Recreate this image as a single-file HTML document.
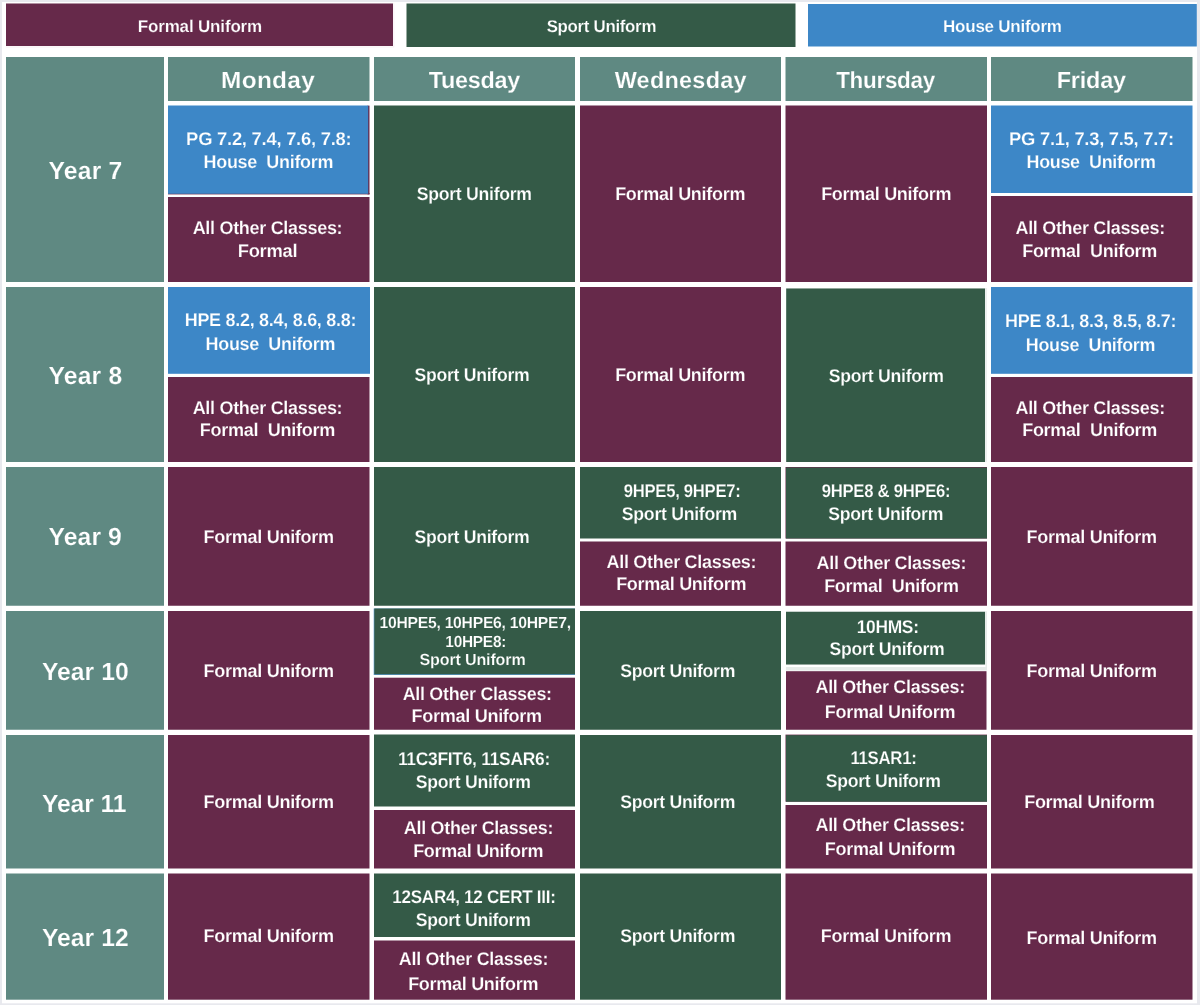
<!DOCTYPE html>
<html lang="en">
<head>
<meta charset="utf-8">
<title>Uniform Timetable</title>
<style>
html,body{margin:0;padding:0;background:#e8e9ee;}
#page{position:relative;width:1200px;height:1005px;overflow:hidden;background:#e8e9ee;}
#bg{position:absolute;left:0;top:0;display:block;}
.t{position:absolute;white-space:pre;color:#fff;font-family:"Liberation Sans",sans-serif;font-weight:700;line-height:1;margin:0;transform-origin:0 0;text-rendering:geometricPrecision;}
.c{font-size:18.4px;height:18.4px;}
.l{font-size:17px;height:17px;}
.h{font-size:23.4px;height:23.4px;}
.y{font-size:24.7px;height:24.7px;}
.s{font-size:16.1px;height:16.1px;}
.km{-webkit-text-stroke:0.2px #66294a;}
.kg{-webkit-text-stroke:0.2px #345a47;}
.kt{-webkit-text-stroke:0.2px #5f8982;}
.kb{-webkit-text-stroke:0.2px #3d87c7;}
</style>
</head>
<body>
<div id="page">
<svg id="bg" width="1200" height="1005" viewBox="0 0 1200 1005">
<rect x="2" y="2" width="1195" height="1001.3" fill="#ffffff"/>
<rect x="6" y="3.5" width="388.3" height="43.9" fill="#f4ecf0"/>
<rect x="6" y="3.5" width="387.5" height="43.1" fill="#ffffff"/>
<rect x="6" y="3.5" width="387" height="42.5" fill="#66294a"/>
<rect x="406.5" y="3.5" width="389" height="43.5" fill="#345a47"/>
<rect x="808" y="4" width="388.8" height="42.5" fill="#3d87c7"/>
<rect x="168" y="57" width="201.5" height="44" fill="#5f8982"/>
<rect x="374" y="57" width="201" height="44" fill="#5f8982"/>
<rect x="580" y="57" width="201" height="44" fill="#5f8982"/>
<rect x="785.5" y="57" width="201.5" height="44" fill="#5f8982"/>
<rect x="991" y="57" width="201.5" height="44" fill="#5f8982"/>
<rect x="6" y="57" width="158" height="225" fill="#5f8982"/>
<rect x="6" y="287" width="158" height="175" fill="#5f8982"/>
<rect x="6" y="467" width="158" height="138.75" fill="#5f8982"/>
<rect x="6" y="611" width="158" height="118.75" fill="#5f8982"/>
<rect x="6" y="735" width="158" height="133.5" fill="#5f8982"/>
<rect x="6" y="873.5" width="158" height="126.2" fill="#5f8982"/>
<rect x="168" y="197" width="201.5" height="85" fill="#66294a"/>
<rect x="367.5" y="105.6" width="2" height="88.8" fill="#66294a"/>
<rect x="168" y="193" width="201.5" height="1.4" fill="#66294a"/>
<rect x="168" y="105.5" width="200.2" height="88.3" fill="#3d87c7"/>
<rect x="374" y="105.5" width="201" height="176.5" fill="#345a47"/>
<rect x="580" y="105.5" width="201" height="176.5" fill="#66294a"/>
<rect x="785.5" y="105.5" width="201.5" height="176.5" fill="#66294a"/>
<rect x="991" y="105.5" width="201.5" height="87.5" fill="#3d87c7"/>
<rect x="991" y="196" width="201.5" height="86" fill="#66294a"/>
<rect x="168" y="287" width="202" height="86.8" fill="#3d87c7"/>
<rect x="168" y="377" width="201.5" height="85" fill="#66294a"/>
<rect x="374" y="287" width="201" height="175" fill="#345a47"/>
<rect x="580" y="287" width="201" height="175" fill="#66294a"/>
<rect x="786" y="288" width="201" height="174" fill="#edf0ef"/>
<rect x="786.2" y="288.5" width="198.8" height="173.5" fill="#345a47"/>
<rect x="991" y="287" width="201.5" height="86.8" fill="#3d87c7"/>
<rect x="991" y="377" width="201.5" height="85" fill="#66294a"/>
<rect x="168" y="467" width="201.5" height="138.75" fill="#66294a"/>
<rect x="374" y="467" width="201" height="138.75" fill="#345a47"/>
<rect x="580" y="467" width="201" height="71.5" fill="#345a47"/>
<rect x="580" y="541.5" width="201" height="64.25" fill="#66294a"/>
<rect x="785.5" y="467" width="201.5" height="71.5" fill="#66294a"/>
<rect x="786" y="467.6" width="201" height="70.9" fill="#345a47"/>
<rect x="785.5" y="541.5" width="201.5" height="64.25" fill="#66294a"/>
<rect x="991" y="467" width="201.5" height="138.75" fill="#66294a"/>
<rect x="168" y="611" width="201.5" height="118.75" fill="#66294a"/>
<rect x="373.7" y="608.5" width="201.3" height="66.5" fill="#5b9bd0"/>
<rect x="374.3" y="608.5" width="200.7" height="65.8" fill="#345a47"/>
<rect x="374" y="677.7" width="201" height="52.05" fill="#66294a"/>
<rect x="580" y="611" width="201" height="118.75" fill="#345a47"/>
<rect x="786" y="611.3" width="201" height="59.3" fill="#e6ebe9"/>
<rect x="786" y="664.5" width="199.5" height="2.5" fill="#ffffff"/>
<rect x="786" y="611.8" width="199" height="52.7" fill="#345a47"/>
<rect x="786" y="671.2" width="200.5" height="58.55" fill="#66294a"/>
<rect x="991" y="611" width="201.5" height="118.75" fill="#66294a"/>
<rect x="168" y="735" width="201.5" height="133.5" fill="#66294a"/>
<rect x="374" y="734.5" width="201" height="72" fill="#345a47"/>
<rect x="374" y="810" width="201" height="58.5" fill="#66294a"/>
<rect x="580" y="735" width="201" height="133.5" fill="#345a47"/>
<rect x="785.5" y="734.6" width="201.5" height="67.1" fill="#66294a"/>
<rect x="786" y="735.2" width="201" height="66.5" fill="#345a47"/>
<rect x="785.5" y="805" width="201.5" height="63.5" fill="#66294a"/>
<rect x="991" y="735" width="201.5" height="133.5" fill="#66294a"/>
<rect x="168" y="873.5" width="201.5" height="126.2" fill="#66294a"/>
<rect x="374" y="873.5" width="201" height="63.5" fill="#345a47"/>
<rect x="374" y="940.5" width="201" height="59.2" fill="#66294a"/>
<rect x="580" y="873.5" width="201" height="126.2" fill="#345a47"/>
<rect x="785.5" y="873.5" width="201.5" height="126.2" fill="#66294a"/>
<rect x="991" y="873.5" width="201.5" height="126.2" fill="#66294a"/>
</svg>
<div class="t l km" style="left:137.75px;top:18px;letter-spacing:-0.164px">Formal Uniform</div>
<div class="t l kg" style="left:546px;top:18px;letter-spacing:-0.303px;transform:translateX(0.65px) scaleX(0.9918)">Sport Uniform</div>
<div class="t l kb" style="left:943.08px;top:18px;letter-spacing:-0.246px">House Uniform</div>
<div class="t h kt" style="left:221px;top:69px;letter-spacing:0.295px;transform:translateX(0.06px) scaleX(1.0425)">Monday</div>
<div class="t h kt" style="left:428.78px;top:69px;letter-spacing:-0.286px">Tuesday</div>
<div class="t h kt" style="left:614.65px;top:69px;letter-spacing:0.294px">Wednesday</div>
<div class="t h kt" style="left:836px;top:69px;letter-spacing:-0.285px;transform:translateX(0.14px) scaleX(0.9593)">Thursday</div>
<div class="t h kt" style="left:1056.74px;top:69px;letter-spacing:-0.167px">Friday</div>
<div class="t y kt" style="left:48.55px;top:160px;letter-spacing:0.174px">Year 7</div>
<div class="t y kt" style="left:48.55px;top:365px;letter-spacing:0.168px">Year 8</div>
<div class="t y kt" style="left:48.55px;top:526px;letter-spacing:0.107px">Year 9</div>
<div class="t y kt" style="left:41.91px;top:661px;letter-spacing:0.051px">Year 10</div>
<div class="t y kt" style="left:41.91px;top:793px;letter-spacing:-0.112px">Year 11</div>
<div class="t y kt" style="left:41.91px;top:927px;letter-spacing:0.051px">Year 12</div>
<div class="t c kb" style="left:186.12px;top:130px;letter-spacing:-0.248px">PG 7.2, 7.4, 7.6, 7.8:</div>
<div class="t c kb" style="left:203px;top:153px;letter-spacing:-0.293px;transform:translateX(0.53px) scaleX(0.9756)">House  Uniform</div>
<div class="t c km" style="left:192px;top:219px;letter-spacing:-0.309px;transform:translateX(0.65px) scaleX(0.9791)">All Other Classes:</div>
<div class="t c km" style="left:237px;top:242px;letter-spacing:-0.278px;transform:translateX(0.74px) scaleX(0.9972)">Formal</div>
<div class="t c kg" style="left:416px;top:185px;letter-spacing:-0.308px;transform:translateX(0.82px) scaleX(0.9604)">Sport Uniform</div>
<div class="t c km" style="left:615px;top:185px;letter-spacing:-0.291px;transform:translateX(0.16px) scaleX(0.9782)">Formal Uniform</div>
<div class="t c km" style="left:821px;top:185px;letter-spacing:-0.306px;transform:translateX(0.16px) scaleX(0.9800)">Formal Uniform</div>
<div class="t c kb" style="left:1009.12px;top:130px;letter-spacing:-0.274px">PG 7.1, 7.3, 7.5, 7.7:</div>
<div class="t c kb" style="left:1026px;top:153px;letter-spacing:-0.300px;transform:translateX(0.53px) scaleX(0.9724)">House  Uniform</div>
<div class="t c km" style="left:1015px;top:219px;letter-spacing:-0.311px;transform:translateX(0.46px) scaleX(0.9778)">All Other Classes:</div>
<div class="t c km" style="left:1022px;top:242px;letter-spacing:-0.284px;transform:translateX(0.16px) scaleX(0.9794)">Formal  Uniform</div>
<div class="t c kb" style="left:184px;top:311px;letter-spacing:-0.292px;transform:translateX(0.67px) scaleX(0.9786)">HPE 8.2, 8.4, 8.6, 8.8:</div>
<div class="t c kb" style="left:205px;top:335px;letter-spacing:-0.293px;transform:translateX(0.53px) scaleX(0.9756)">House  Uniform</div>
<div class="t c km" style="left:192px;top:399px;letter-spacing:-0.309px;transform:translateX(0.65px) scaleX(0.9791)">All Other Classes:</div>
<div class="t c km" style="left:199px;top:421px;letter-spacing:-0.287px;transform:translateX(0.73px) scaleX(0.9831)">Formal  Uniform</div>
<div class="t c kg" style="left:414px;top:366px;letter-spacing:-0.285px;transform:translateX(0.52px) scaleX(0.9576)">Sport Uniform</div>
<div class="t c km" style="left:615px;top:366px;letter-spacing:-0.291px;transform:translateX(0.16px) scaleX(0.9782)">Formal Uniform</div>
<div class="t c kg" style="left:828px;top:367px;letter-spacing:-0.308px;transform:translateX(0.82px) scaleX(0.9604)">Sport Uniform</div>
<div class="t c kb" style="left:1004px;top:312px;letter-spacing:-0.298px;transform:translateX(0.99px) scaleX(0.9773)">HPE 8.1, 8.3, 8.5, 8.7:</div>
<div class="t c kb" style="left:1025px;top:336px;letter-spacing:-0.283px;transform:translateX(0.75px) scaleX(0.9736)">House  Uniform</div>
<div class="t c km" style="left:1015px;top:399px;letter-spacing:-0.311px;transform:translateX(0.46px) scaleX(0.9778)">All Other Classes:</div>
<div class="t c km" style="left:1022px;top:421px;letter-spacing:-0.284px;transform:translateX(0.16px) scaleX(0.9794)">Formal  Uniform</div>
<div class="t c km" style="left:203px;top:528px;letter-spacing:-0.324px;transform:translateX(0.58px) scaleX(0.9834)">Formal Uniform</div>
<div class="t c kg" style="left:414px;top:528px;letter-spacing:-0.285px;transform:translateX(0.52px) scaleX(0.9576)">Sport Uniform</div>
<div class="t c kg" style="left:623px;top:482px;letter-spacing:-0.305px;transform:translateX(0.75px) scaleX(0.9058)">9HPE5, 9HPE7:</div>
<div class="t c kg" style="left:621px;top:505px;letter-spacing:-0.308px;transform:translateX(0.81px) scaleX(0.9633)">Sport Uniform</div>
<div class="t c km" style="left:606px;top:553px;letter-spacing:-0.298px;transform:translateX(0.56px) scaleX(0.9780)">All Other Classes:</div>
<div class="t c km" style="left:616px;top:575px;letter-spacing:-0.306px;transform:translateX(0.16px) scaleX(0.9800)">Formal Uniform</div>
<div class="t c kg" style="left:821px;top:482px;letter-spacing:-0.314px;transform:translateX(0.69px) scaleX(0.9077)">9HPE8 &amp; 9HPE6:</div>
<div class="t c kg" style="left:828px;top:505px;letter-spacing:-0.306px;transform:translateX(0.23px) scaleX(0.9600)">Sport Uniform</div>
<div class="t c km" style="left:816px;top:554px;letter-spacing:-0.298px;transform:translateX(0.56px) scaleX(0.9780)">All Other Classes:</div>
<div class="t c km" style="left:824px;top:577px;letter-spacing:-0.304px;transform:translateX(0.16px) scaleX(0.9788)">Formal  Uniform</div>
<div class="t c km" style="left:1026px;top:528px;letter-spacing:-0.324px;transform:translateX(0.58px) scaleX(0.9834)">Formal Uniform</div>
<div class="t c km" style="left:203px;top:662px;letter-spacing:-0.324px;transform:translateX(0.58px) scaleX(0.9834)">Formal Uniform</div>
<div class="t s kg" style="left:379px;top:615px;letter-spacing:-0.295px;transform:translateX(0.56px) scaleX(0.9785)">10HPE5, 10HPE6, 10HPE7,</div>
<div class="t s kg" style="left:445px;top:634px;letter-spacing:-0.277px;transform:translateX(0.36px) scaleX(0.9582)">10HPE8:</div>
<div class="t s kg" style="left:419.51px;top:652px;letter-spacing:-0.165px">Sport Uniform</div>
<div class="t c km" style="left:402px;top:685px;letter-spacing:-0.292px;transform:translateX(0.63px) scaleX(0.9739)">All Other Classes:</div>
<div class="t c km" style="left:411px;top:707px;letter-spacing:-0.324px;transform:translateX(0.58px) scaleX(0.9834)">Formal Uniform</div>
<div class="t c kg" style="left:620px;top:662px;letter-spacing:-0.306px;transform:translateX(0.23px) scaleX(0.9600)">Sport Uniform</div>
<div class="t c kg" style="left:856px;top:618px;letter-spacing:-0.324px;transform:translateX(0.67px) scaleX(0.9461)">10HMS:</div>
<div class="t c kg" style="left:829px;top:640px;letter-spacing:-0.285px;transform:translateX(0.52px) scaleX(0.9576)">Sport Uniform</div>
<div class="t c km" style="left:815px;top:678px;letter-spacing:-0.304px;transform:translateX(0.50px) scaleX(0.9767)">All Other Classes:</div>
<div class="t c km" style="left:824px;top:703px;letter-spacing:-0.279px;transform:translateX(0.74px) scaleX(0.9809)">Formal Uniform</div>
<div class="t c km" style="left:1026px;top:662px;letter-spacing:-0.324px;transform:translateX(0.58px) scaleX(0.9834)">Formal Uniform</div>
<div class="t c km" style="left:203px;top:793px;letter-spacing:-0.324px;transform:translateX(0.58px) scaleX(0.9834)">Formal Uniform</div>
<div class="t c kg" style="left:397px;top:750px;letter-spacing:-0.312px;transform:translateX(0.88px) scaleX(0.9484)">11C3FIT6, 11SAR6:</div>
<div class="t c kg" style="left:415px;top:773px;letter-spacing:-0.301px;transform:translateX(0.75px) scaleX(0.9593)">Sport Uniform</div>
<div class="t c km" style="left:403px;top:819px;letter-spacing:-0.305px;transform:translateX(0.86px) scaleX(0.9756)">All Other Classes:</div>
<div class="t c km" style="left:413px;top:842px;letter-spacing:-0.291px;transform:translateX(0.16px) scaleX(0.9782)">Formal Uniform</div>
<div class="t c kg" style="left:620px;top:793px;letter-spacing:-0.306px;transform:translateX(0.23px) scaleX(0.9600)">Sport Uniform</div>
<div class="t c kg" style="left:850px;top:749px;letter-spacing:-0.323px;transform:translateX(0.41px) scaleX(0.9142)">11SAR1:</div>
<div class="t c kg" style="left:825px;top:772px;letter-spacing:-0.301px;transform:translateX(0.75px) scaleX(0.9593)">Sport Uniform</div>
<div class="t c km" style="left:815px;top:816px;letter-spacing:-0.304px;transform:translateX(0.50px) scaleX(0.9767)">All Other Classes:</div>
<div class="t c km" style="left:824px;top:840px;letter-spacing:-0.279px;transform:translateX(0.74px) scaleX(0.9809)">Formal Uniform</div>
<div class="t c km" style="left:1024px;top:793px;letter-spacing:-0.308px;transform:translateX(0.16px) scaleX(0.9823)">Formal Uniform</div>
<div class="t c km" style="left:203px;top:927px;letter-spacing:-0.324px;transform:translateX(0.58px) scaleX(0.9834)">Formal Uniform</div>
<div class="t c kg" style="left:392px;top:888px;letter-spacing:-0.295px;transform:translateX(0.30px) scaleX(0.9278)">12SAR4, 12 CERT III:</div>
<div class="t c kg" style="left:415px;top:911px;letter-spacing:-0.301px;transform:translateX(0.75px) scaleX(0.9593)">Sport Uniform</div>
<div class="t c km" style="left:398px;top:950px;letter-spacing:-0.305px;transform:translateX(0.86px) scaleX(0.9756)">All Other Classes:</div>
<div class="t c km" style="left:408px;top:975px;letter-spacing:-0.291px;transform:translateX(0.16px) scaleX(0.9782)">Formal Uniform</div>
<div class="t c kg" style="left:620px;top:927px;letter-spacing:-0.306px;transform:translateX(0.23px) scaleX(0.9600)">Sport Uniform</div>
<div class="t c km" style="left:820px;top:927px;letter-spacing:-0.279px;transform:translateX(0.74px) scaleX(0.9809)">Formal Uniform</div>
<div class="t c km" style="left:1026px;top:929px;letter-spacing:-0.324px;transform:translateX(0.58px) scaleX(0.9834)">Formal Uniform</div>
</div>
</body>
</html>
